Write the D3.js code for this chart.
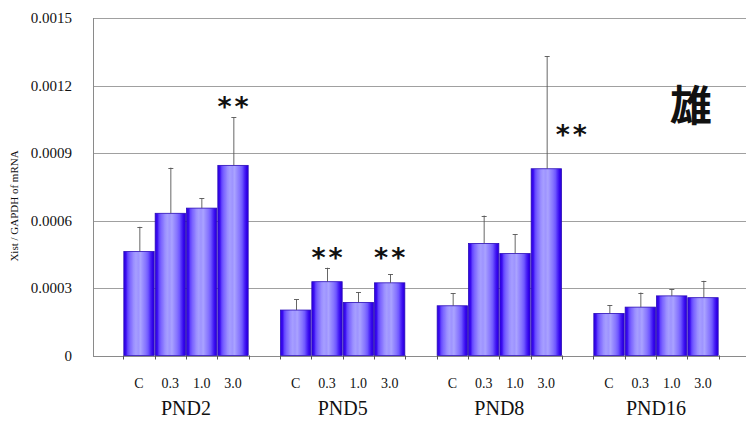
<!DOCTYPE html>
<html>
<head>
<meta charset="utf-8">
<script src="https://cdn.jsdelivr.net/npm/d3@7"></script>
<style>
  body { margin: 0; background: #fff; }
  svg { display: block; }
</style>
</head>
<body>
<svg id="chart" width="746" height="421"></svg>
<script>
// data
var groups = ["PND2", "PND5", "PND8", "PND16"];
var doses = ["C", "0.3", "1.0", "3.0"];
var means = [
  [0.000462, 0.000632, 0.000655, 0.000845],
  [0.000202, 0.000328, 0.000236, 0.000323],
  [0.000221, 0.000498, 0.000453, 0.000830],
  [0.000187, 0.000215, 0.000265, 0.000257]
];
var errTops = [
  [0.000572, 0.000835, 0.000698, 0.001058],
  [0.000249, 0.000390, 0.000282, 0.000362],
  [0.000276, 0.000622, 0.000538, 0.001330],
  [0.000224, 0.000280, 0.000294, 0.000332]
];
var yTicks = [0, 0.0003, 0.0006, 0.0009, 0.0012, 0.0015];
var yTickLabels = ["0", "0.0003", "0.0006", "0.0009", "0.0012", "0.0015"];
// significance marks: group, dose, level (data units)
var stars = [
  ["PND2", "3.0", 0.00113],
  ["PND5", "0.3", 0.00046],
  ["PND5", "3.0", 0.00046],
  ["PND8", "3.0", 0.001005]
];
var sexLabel = "雄";
var yTitle = "Xist / GAPDH of mRNA";

var svg = d3.select("#chart");
var plotLeft = 93, plotRight = 746, plotTop = 18, plotBottom = 355.5;

var y = d3.scaleLinear().domain([0, 0.0015]).range([plotBottom, plotTop]);
var x0 = d3.scaleBand().domain(groups).range([92, 750])
    .paddingInner(0.2).paddingOuter(0.2);
var x1 = d3.scaleBand().domain(doses).range([0, x0.bandwidth()]).padding(0);

// bar gradient (vertical stripes, dark edges, pale middle)
var defs = svg.append("defs");
var grad = defs.append("linearGradient").attr("id", "barGrad")
    .attr("x1", "0%").attr("x2", "100%").attr("y1", "0%").attr("y2", "0%");
[[0, "#2c00e4"], [0.07, "#3a0cf0"], [0.13, "#6446ff"], [0.2, "#7c66ff"],
 [0.26, "#8a78ff"], [0.32, "#9a8eff"], [0.4, "#a69eff"], [0.48, "#9e94ff"],
 [0.55, "#aaa3ff"], [0.63, "#988cff"], [0.72, "#8674ff"], [0.8, "#6f58ff"],
 [0.88, "#4a24f6"], [0.94, "#3304ec"], [1, "#2a00dc"]]
  .forEach(function (s) {
    grad.append("stop").attr("offset", s[0]).attr("stop-color", s[1]);
  });

// grid lines
svg.append("g")
  .selectAll("line")
  .data(yTicks)
  .enter().append("line")
  .attr("x1", plotLeft).attr("x2", plotRight)
  .attr("y1", function (d) { return Math.round(y(d)) + 0.5; })
  .attr("y2", function (d) { return Math.round(y(d)) + 0.5; })
  .attr("stroke", function (d) { return d === 0 ? "#8a8a8a" : "#a0a0a0"; })
  .attr("stroke-width", 1);

// y axis line
svg.append("line")
  .attr("x1", plotLeft + 0.5).attr("x2", plotLeft + 0.5)
  .attr("y1", plotTop).attr("y2", plotBottom + 0.5)
  .attr("stroke", "#8a8a8a");

// y tick labels
svg.append("g")
  .selectAll("text")
  .data(yTicks)
  .enter().append("text")
  .attr("x", 72)
  .attr("y", function (d) { return y(d) + 5; })
  .attr("text-anchor", "end")
  .style("font-family", "'Liberation Serif', 'Times New Roman', serif")
  .style("font-size", "15px")
  .style("fill", "#111")
  .text(function (d, i) { return yTickLabels[i]; });

// y title
svg.append("text")
  .attr("transform", "translate(18,206) rotate(-90)")
  .attr("text-anchor", "middle")
  .style("font-family", "'Liberation Serif', 'Times New Roman', serif")
  .style("font-size", "11px")
  .style("fill", "#111")
  .text(yTitle);

// bars
var gGroups = svg.append("g")
  .selectAll("g")
  .data(groups)
  .enter().append("g")
  .attr("transform", function (d) { return "translate(" + x0(d) + ",0)"; });

function rows(g, gi) {
  return doses.map(function (ds, di) {
    return { dose: ds, v: means[gi][di], e: errTops[gi][di] };
  });
}

gGroups.selectAll("rect")
  .data(rows)
  .enter().append("rect")
  .attr("x", function (d) { return x1(d.dose) + 0.5; })
  .attr("y", function (d) { return y(d.v); })
  .attr("width", x1.bandwidth() - 1)
  .attr("height", function (d) { return plotBottom - y(d.v); })
  .attr("fill", "url(#barGrad)")
  .attr("stroke", "#2a0cb8")
  .attr("stroke-width", 0.8);

// error bars (upper only)
var eb = gGroups.selectAll("g.err")
  .data(rows)
  .enter().append("g").attr("class", "err");

function mid(d) { return Math.round(x1(d.dose) + x1.bandwidth() / 2); }

eb.append("line")
  .attr("x1", function (d) { return mid(d) + 0.5; })
  .attr("x2", function (d) { return mid(d) + 0.5; })
  .attr("y1", function (d) { return y(d.v); })
  .attr("y2", function (d) { return y(d.e); })
  .attr("stroke", "#555").attr("stroke-width", 0.9);
eb.append("line")
  .attr("x1", function (d) { return mid(d) - 2; })
  .attr("x2", function (d) { return mid(d) + 3; })
  .attr("y1", function (d) { return Math.round(y(d.e)) + 0.5; })
  .attr("y2", function (d) { return Math.round(y(d.e)) + 0.5; })
  .attr("stroke", "#555").attr("stroke-width", 0.9);

// x tick marks at bar edges
var tickXs = [];
groups.forEach(function (g) {
  doses.forEach(function (ds) { tickXs.push(x0(g) + x1(ds)); });
  tickXs.push(x0(g) + x0.bandwidth());
});
svg.append("g")
  .selectAll("line")
  .data(tickXs)
  .enter().append("line")
  .attr("x1", function (d) { return Math.round(d) + 0.5; })
  .attr("x2", function (d) { return Math.round(d) + 0.5; })
  .attr("y1", plotBottom).attr("y2", plotBottom + 4)
  .attr("stroke", "#555");

// dose labels
gGroups.selectAll("text.dose")
  .data(doses)
  .enter().append("text")
  .attr("class", "dose")
  .attr("x", function (d) { return x1(d) + x1.bandwidth() / 2; })
  .attr("y", 388)
  .attr("text-anchor", "middle")
  .style("font-family", "'Liberation Serif', 'Times New Roman', serif")
  .style("font-size", "14px")
  .style("fill", "#111")
  .text(function (d) { return d; });

// group labels
gGroups.append("text")
  .attr("x", x0.bandwidth() / 2)
  .attr("y", 415)
  .attr("text-anchor", "middle")
  .style("font-family", "'Liberation Serif', 'Times New Roman', serif")
  .style("font-size", "20px")
  .style("fill", "#111")
  .text(function (d) { return d; });

// significance stars
svg.append("g")
  .selectAll("text")
  .data(stars)
  .enter().append("text")
  .attr("x", function (d) {
    var gi = groups.indexOf(d[0]), di = doses.indexOf(d[1]);
    var cx = x0(d[0]) + x1(d[1]) + x1.bandwidth() / 2;
    // shift aside when the error bar runs through the mark
    if (errTops[gi][di] > d[2]) cx += 25;
    return cx + 1.5;
  })
  .attr("y", function (d) { return y(d[2]) + 15; })
  .attr("text-anchor", "middle")
  .style("font-family", "'DejaVu Sans', 'Liberation Sans', sans-serif")
  .style("font-weight", "bold")
  .style("font-size", "27px")
  .style("letter-spacing", "3px")
  .style("fill", "#111")
  .text("**");

// sex label
svg.append("text")
  .attr("x", 691)
  .attr("y", 121)
  .attr("text-anchor", "middle")
  .style("font-family", "'Noto Sans CJK JP', 'Noto Sans CJK SC', sans-serif")
  .style("font-weight", "bold")
  .style("font-size", "42px")
  .style("fill", "#111")
  .text(sexLabel);
</script>
</body>
</html>
